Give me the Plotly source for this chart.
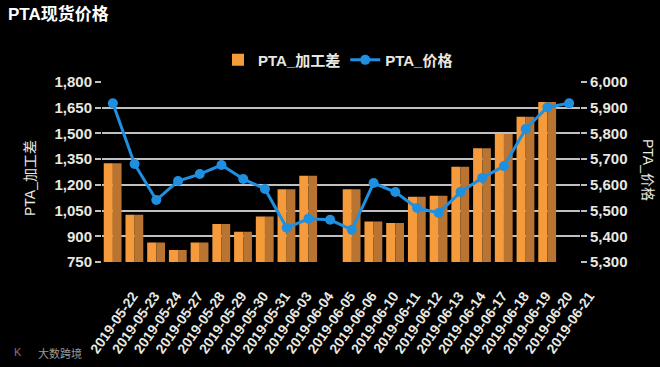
import plotly.graph_objects as go

dates = ["2019-05-22", "2019-05-23", "2019-05-24", "2019-05-27", "2019-05-28",
         "2019-05-29", "2019-05-30", "2019-05-31", "2019-06-03", "2019-06-04",
         "2019-06-05", "2019-06-06", "2019-06-10", "2019-06-11", "2019-06-12",
         "2019-06-13", "2019-06-14", "2019-06-17", "2019-06-18", "2019-06-19",
         "2019-06-20", "2019-06-21"]
spread = [1326, 1025, 864, 820, 864, 971, 926, 1015, 1174, 1253,
          None, 1174, 986, 977, 1131, 1137, 1306, 1413, 1496, 1597,
          1684, None]
price = [5917, 5681, 5541, 5615, 5642, 5677, 5623, 5584, 5433, 5468,
         5464, 5425, 5607, 5572, 5510, 5491, 5572, 5627, 5673, 5817,
         5902, 5917]
left_ticks = [750, 900, 1050, 1200, 1350, 1500, 1650, 1800]
right_ticks = [5300, 5400, 5500, 5600, 5700, 5800, 5900, 6000]

W, H = 660, 367
L, R, T, B = 102, 80, 82, 105
PW, PH = W - L - R, H - T - B


def px(x):
    return (x - L) / PW


def py(y):
    return 1 - (y - T) / PH


TXT = "#e8e8e0"
FONT = "Liberation Sans, Arial, Noto Sans CJK SC, sans-serif"

fig = go.Figure()
fig.add_trace(go.Bar(x=dates, y=spread, name="PTA_加工差",
                     marker=dict(color="#f59b3c", line=dict(width=0)),
                     width=0.42, offset=-0.42, yaxis="y", showlegend=True))
fig.add_trace(go.Bar(x=dates, y=spread, name="PTA_加工差",
                     marker=dict(color="#b87430", line=dict(width=0)),
                     width=0.40, offset=0.0, yaxis="y", showlegend=False))
fig.add_trace(go.Scatter(x=dates, y=price, name="PTA_价格", yaxis="y2",
                         mode="lines+markers",
                         line=dict(color="#1f8fe0", width=3),
                         marker=dict(color="#1f8fe0", size=10)))

fig.update_layout(
    width=W, height=H,
    margin=dict(l=L, r=R, t=T, b=B, autoexpand=False),
    paper_bgcolor="#000000", plot_bgcolor="#000000",
    barmode="overlay",
    font=dict(family=FONT, color=TXT),
    showlegend=True,
    legend=dict(orientation="h", x=px(338), xanchor="center", y=1.03, yanchor="bottom",
                font=dict(size=15, color=TXT, weight="bold"),
                bgcolor="rgba(0,0,0,0)", itemwidth=30, tracegroupgap=0),
    xaxis=dict(type="category", categoryorder="array", categoryarray=dates,
               range=[-0.5, len(dates) - 0.5], automargin=False,
               tickangle=-55, tickfont=dict(size=14, color=TXT, weight="bold"),
               showgrid=False, zeroline=False, showline=False, ticks="",
               ticklabelstandoff=22, ticklabelshift=20),
    yaxis=dict(range=[750, 1800], tickvals=left_ticks, automargin=False,
               ticktext=[f"{v:,}" for v in left_ticks],
               tickfont=dict(size=15, color=TXT, weight="bold"),
               showgrid=True, gridcolor="#c0c0c0", gridwidth=1.5,
               zeroline=False, showline=False, ticks="outside", ticklen=6,
               tickcolor="#c0c0c0", tickwidth=1.5),
    yaxis2=dict(range=[5300, 6000], tickvals=right_ticks, overlaying="y", side="right",
                ticktext=[f"{v:,}" for v in right_ticks], automargin=False,
                tickfont=dict(size=15, color=TXT, weight="bold"),
                showgrid=False, zeroline=False, showline=False, ticks="outside",
                ticklen=6, tickcolor="#c0c0c0", tickwidth=1.5),
    annotations=[
        dict(text="PTA现货价格", xref="paper", yref="paper", x=px(6), y=py(14),
             xanchor="left", yanchor="middle", showarrow=False,
             font=dict(size=17, color="#ffffff", weight="bold")),
        dict(text="PTA_加工差", xref="paper", yref="paper", x=px(30), y=py(178),
             xanchor="center", yanchor="middle", showarrow=False, textangle=-90,
             font=dict(size=14, color=TXT)),
        dict(text="PTA_价格", xref="paper", yref="paper", x=px(648), y=py(170),
             xanchor="center", yanchor="middle", showarrow=False, textangle=90,
             font=dict(size=14, color=TXT)),
        dict(text="大数跨境", xref="paper", yref="paper", x=px(36), y=py(353),
             xanchor="left", yanchor="middle", showarrow=False,
             font=dict(size=11, color="#9a9a9a")),
        dict(text="K", xref="paper", yref="paper", x=px(12), y=py(352),
             xanchor="left", yanchor="middle", showarrow=False,
             font=dict(size=11, color="#7a7a7a")),
    ],
)

fig.write_html("out.html",
               config={"displayModeBar": False},
               post_script="document.body.style.margin='0';"
                           "document.body.style.background='#000';")
